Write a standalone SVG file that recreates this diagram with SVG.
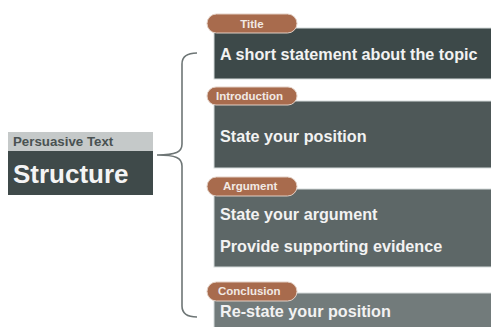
<svg xmlns="http://www.w3.org/2000/svg" width="491" height="327" viewBox="0 0 491 327">
  <style>
    text { font-family: "Liberation Sans", Arial, sans-serif; font-weight: bold; }
    .tab { fill: #a86b4d; stroke: #e2cfc4; stroke-width: 1; }
    .tabtxt { fill: #f1e9e4; font-size: 11.5px; }
    .body { font-size: 16.2px; fill: #f2f2f2; }
    .box { stroke: #d6dcdc; stroke-width: 1; }
    .brace { fill: none; stroke: #6e7676; stroke-width: 1.6; }
  </style>

  <rect width="491" height="327" fill="#ffffff"/>

  <!-- root node -->
  <g id="structure">
    <rect x="8" y="132" width="145" height="19" fill="#c5c9c9"/>
    <rect x="8" y="151" width="145" height="44" fill="#3f4a4a"/>
    <text x="13" y="146" font-size="13.3" fill="#4a5252">Persuasive Text</text>
    <text x="13" y="183" font-size="26" fill="#f4f4f4">Structure</text>
  </g>

  <!-- connector: curly brace -->
  <g id="connectors">
    <path class="brace" d="M197,53 C187,53 182,56 182,64 L182,144 C182,152 176,155 157,155 C176,155 182,158 182,166 L182,306 C182,314 187,317 197,317"/>
  </g>

  <g id="title">
    <rect class="box" x="214" y="28" width="280" height="51" fill="#3d4949"/>
    <rect class="tab" x="207" y="14" width="90" height="19" rx="9.5"/>
    <text class="tabtxt" x="252" y="27.5" text-anchor="middle">Title</text>
    <text class="body" x="220" y="60">A short statement about the topic</text>
  </g>

  <g id="introduction">
    <rect class="box" x="214" y="101" width="280" height="67" fill="#4e5858"/>
    <rect class="tab" x="207" y="87" width="90" height="18" rx="9"/>
    <text class="tabtxt" x="216" y="100">Introduction</text>
    <text class="body" x="220" y="142">State your position</text>
  </g>

  <g id="argument">
    <rect class="box" x="214" y="189" width="280" height="78" fill="#5d6767"/>
    <rect class="tab" x="207" y="177" width="90" height="19" rx="9.5"/>
    <text class="tabtxt" x="223" y="190">Argument</text>
    <text class="body" x="220" y="220">State your argument</text>
    <text class="body" x="220" y="252">Provide supporting evidence</text>
  </g>

  <g id="conclusion">
    <rect class="box" x="214" y="293" width="280" height="40" fill="#727b7b"/>
    <rect class="tab" x="207" y="282" width="90" height="19" rx="9.5"/>
    <text class="tabtxt" x="218" y="295">Conclusion</text>
    <text class="body" x="220" y="317">Re-state your position</text>
  </g>
</svg>
